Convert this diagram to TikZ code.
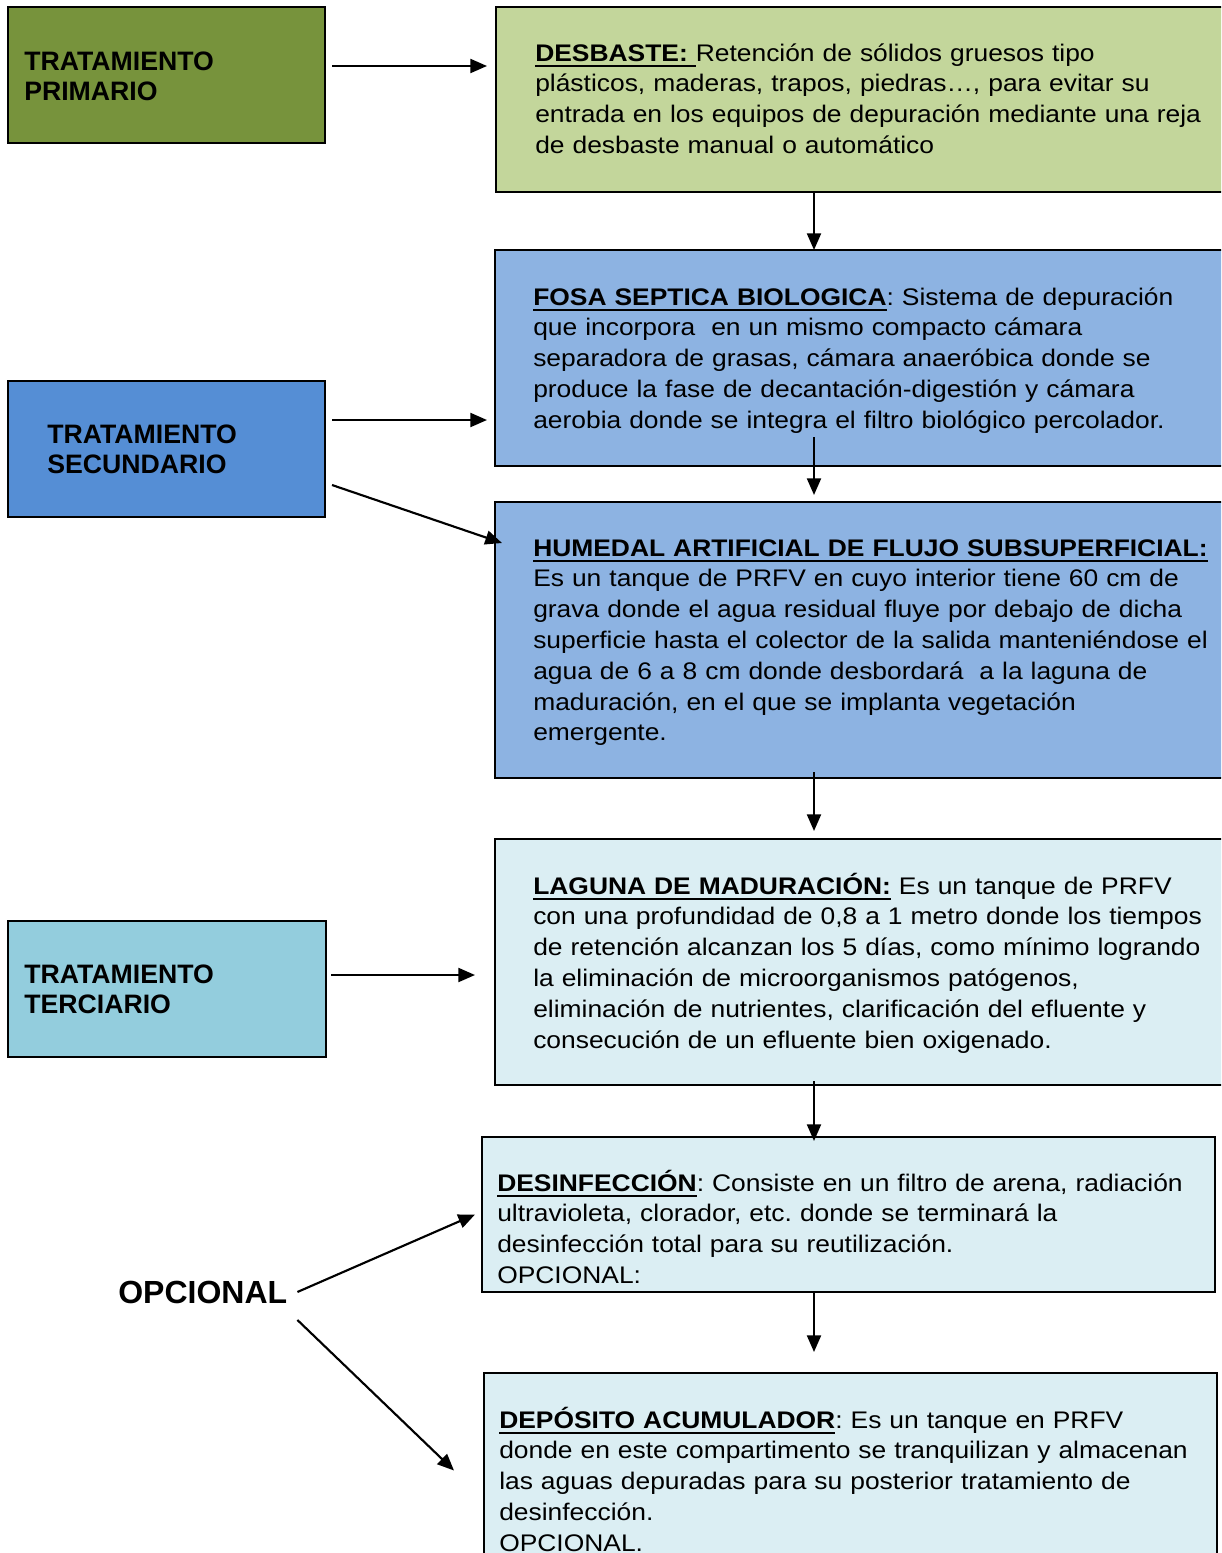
\documentclass[tikz,border=0pt]{standalone}
\usepackage{fontspec}
\setmainfont{Liberation Sans}
\newfontfamily\bodyfont[FakeStretch=1.1]{Liberation Sans}
\usetikzlibrary{arrows.meta,calc,fit}
\definecolor{cprim}{HTML}{77933C}
\definecolor{cdesb}{HTML}{C3D69B}
\definecolor{cfosa}{HTML}{8DB3E2}
\definecolor{csec}{HTML}{558ED5}
\definecolor{cter}{HTML}{93CDDD}
\definecolor{clag}{HTML}{DBEEF3}
\newsavebox\ulsave
\newcommand\ulhead[1]{\sbox\ulsave{#1}\rlap{\rule[-4.3pt]{\wd\ulsave}{1.6pt}}\usebox\ulsave}
\frenchspacing
\begin{document}
\begin{tikzpicture}[x=0.75pt,y=-0.75pt,
  box/.style={draw=black,line width=1.5pt,inner sep=0pt},
  body/.style={anchor=base west,inner sep=0pt,text width=640pt,align=left,font=\bodyfont\fontsize{18pt}{23.1pt}\selectfont\frenchspacing},
  lab/.style={anchor=base west,inner sep=0pt,text width=230pt,align=left,font=\fontsize{20pt}{22.5pt}\selectfont\bfseries},
  arr/.style={line width=1.6pt,-{Triangle[length=12.5pt,width=10.5pt]}}]
\useasboundingbox (0,0) rectangle (1221,1553);
\clip (0,0) rectangle (1221,1553);

% boxes
\node[box,fill=cprim,fit={(8,7) (325,143)}] (prim) {};
\node[box,fill=cdesb,fit={(496,7) (1240,192)}] (desb) {};
\node[box,fill=cfosa,fit={(495,250) (1240,466)}] (fosa) {};
\node[box,fill=csec,fit={(8,381) (325,517)}] (sec) {};
\node[box,fill=cfosa,fit={(495,502) (1240,778)}] (hum) {};
\node[box,fill=clag,fit={(495,839) (1240,1085)}] (lag) {};
\node[box,fill=cter,fit={(8,921) (326,1057)}] (ter) {};
\node[box,fill=clag,fit={(482,1137) (1215,1292)}] (desinf) {};
\node[box,fill=clag,fit={(484,1373) (1217,1575)}] (dep) {};

% labels
\node[lab] (tprim) at (24,70) {TRATAMIENTO\\PRIMARIO};
\node[lab] (tsec) at (47,443) {TRATAMIENTO\\SECUNDARIO};
\node[lab] (tter) at (24,983) {TRATAMIENTO\\TERCIARIO};
\node[anchor=base west,inner sep=0pt,font=\fontsize{24pt}{28pt}\selectfont\bfseries] (opc) at (118,1303) {OPCIONAL};

% texts
\node[body] (tdesb) at (535,61) {\ulhead{\bfseries DESBASTE:\ }Retención de sólidos gruesos tipo\\
plásticos, maderas, trapos, piedras…, para evitar su\\
entrada en los equipos de depuración mediante una reja\\
de desbaste manual o automático};

\node[body] (tfosa) at (533,305) {\ulhead{\bfseries FOSA SEPTICA BIOLOGICA}: Sistema de depuración\\
que incorpora\ \ en un mismo compacto cámara\\
separadora de grasas, cámara anaeróbica donde se\\
produce la fase de decantación-digestión y cámara\\
aerobia donde se integra el filtro biológico percolador.};

\node[body] (thum) at (533,556) {\ulhead{\bfseries HUMEDAL ARTIFICIAL DE FLUJO SUBSUPERFICIAL:}\\
Es un tanque de PRFV en cuyo interior tiene 60 cm de\\
grava donde el agua residual fluye por debajo de dicha\\
superficie hasta el colector de la salida manteniéndose el\\
agua de 6 a 8 cm donde desbordará\ \ a la laguna de\\
maduración, en el que se implanta vegetación\\
emergente.};

\node[body] (tlag) at (533,894) {\ulhead{\bfseries LAGUNA DE MADURACIÓN:} Es un tanque de PRFV\\
con una profundidad de 0,8 a 1 metro donde los tiempos\\
de retención alcanzan los 5 días, como mínimo logrando\\
la eliminación de microorganismos patógenos,\\
eliminación de nutrientes, clarificación del efluente y\\
consecución de un efluente bien oxigenado.};

\node[body] (tdesinf) at (497,1191) {\ulhead{\bfseries DESINFECCIÓN}: Consiste en un filtro de arena, radiación\\
ultravioleta, clorador, etc. donde se terminará la\\
desinfección total para su reutilización.\\
OPCIONAL:};

\node[body] (tdep) at (499,1428) {\ulhead{\bfseries DEPÓSITO ACUMULADOR}: Es un tanque en PRFV\\
donde en este compartimento se tranquilizan y almacenan\\
las aguas depuradas para su posterior tratamiento de\\
desinfección.\\
OPCIONAL.};

% connectors
\draw[arr] ($(prim.east)+(6,-9)$) -- ($(desb.west)+(-8,-33.5)$);
\draw[arr] ($(desb.south)+(-54,0)$) -- ($(fosa.north)+(-53.5,1)$);
\draw[arr] ($(sec.east)+(6,-29)$) -- ($(fosa.west)+(-7,62)$);
\draw[arr] ($(sec.east)+(6,36)$) -- ($(hum.west)+(8,-97)$);
\draw[arr] ($(fosa.south)+(-53.5,-30)$) -- ($(hum.north)+(-53.5,-6)$);
\draw[arr] ($(hum.south)+(-53.5,-7)$) -- ($(lag.north)+(-53.5,-7)$);
\draw[arr] ($(ter.east)+(4,-14)$) -- ($(lag.west)+(-19,13)$);
\draw[arr] ($(lag.south)+(-53.5,-5)$) -- ($(desinf.north)+(-34.5,5)$);
\draw[arr] ($(desinf.south)+(-34.5,0)$) -- ($(dep.north)+(-36.5,-20)$);
\draw[arr] ($(opc.east)+(10,0)$) -- ($(desinf.west)+(-6,0)$);
\draw[arr] ($(opc.east)+(10,28)$) -- ($(dep.west)+(-29,-3.5)$);
\end{tikzpicture}
\end{document}
